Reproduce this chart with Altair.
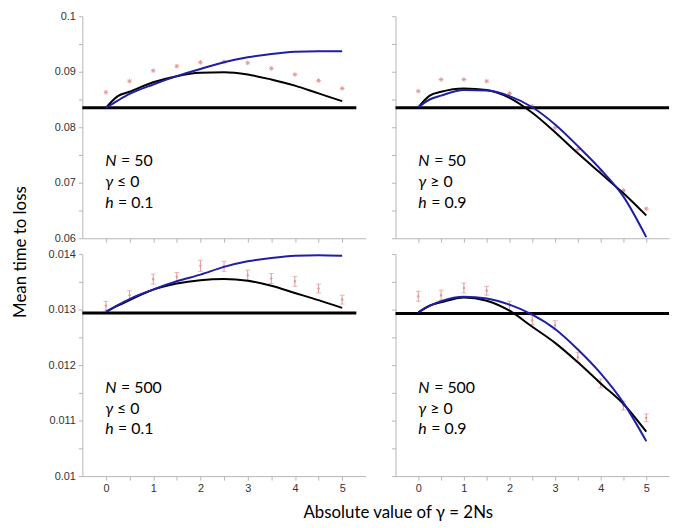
import altair as alt
import pandas as pd

# ---------------- data ----------------
x_sim = [0, 0.5, 1, 1.5, 2, 2.5, 3, 3.5, 4, 4.5, 5]
x_curve = [0, 0.25, 0.5, 1, 1.5, 2, 2.5, 3, 3.5, 4, 4.5, 5]
x_ticks = [0, 0.5, 1, 1.5, 2, 2.5, 3, 3.5, 4, 4.5, 5]

# Panel A: N = 50, gamma <= 0, h = 0.1
a_sim = [0.0863, 0.0883, 0.0902, 0.0910, 0.0917, 0.0918, 0.0916, 0.0906, 0.0895, 0.0884, 0.0870]
a_black = [0.0835, 0.0856, 0.0864, 0.0881, 0.0892, 0.0898, 0.0899, 0.0895, 0.0886, 0.0875, 0.0861, 0.0847]
a_blue = [0.0835, 0.0848, 0.0860, 0.0877, 0.0892, 0.0905, 0.0917, 0.0926, 0.0932, 0.0936, 0.0937, 0.0937]
a_neutral = 0.0835

# Panel B: N = 50, gamma >= 0, h = 0.9
b_sim = [0.0865, 0.0886, 0.0886, 0.0883, 0.0861, 0.0838, 0.0799, 0.0760, 0.0722, 0.0686, 0.0653]
b_black = [0.0836, 0.0857, 0.0864, 0.0870, 0.0867, 0.0853, 0.0826, 0.0791, 0.0753, 0.0717, 0.0681, 0.0641]
b_blue = [0.0836, 0.0850, 0.0857, 0.0867, 0.0866, 0.0856, 0.0836, 0.0805, 0.0766, 0.0724, 0.0675, 0.0602]
b_neutral = 0.0835

# Panel C: N = 500, gamma <= 0, h = 0.1
c_sim = [0.01307, 0.01326, 0.01355, 0.01359, 0.01379, 0.01378, 0.01362, 0.01356, 0.01351, 0.01338, 0.01318]
c_err = [0.00008, 0.00008, 0.00009, 0.00008, 0.00010, 0.00009, 0.00009, 0.00009, 0.00009, 0.00008, 0.00008]
c_black = [0.01296, 0.01307, 0.01317, 0.01336, 0.01347, 0.01353, 0.01355, 0.01352, 0.01343, 0.01330, 0.01317, 0.01303]
c_blue = [0.01296, 0.01308, 0.01319, 0.01336, 0.01351, 0.01363, 0.01377, 0.01387, 0.01393, 0.01397, 0.01398, 0.01397]
c_neutral = 0.01294

# Panel D: N = 500, gamma >= 0, h = 0.9
d_sim = [0.01324, 0.01326, 0.01339, 0.01334, 0.01307, 0.01281, 0.01272, 0.01214, 0.01167, 0.01127, 0.01105]
d_err = [0.00009, 0.00009, 0.00009, 0.00008, 0.00008, 0.00008, 0.00008, 0.00009, 0.00008, 0.00008, 0.00007]
d_black = [0.01295, 0.01307, 0.01313, 0.01322, 0.01316, 0.01298, 0.01269, 0.01240, 0.01205, 0.01167, 0.01130, 0.01080]
d_blue = [0.01295, 0.01307, 0.01315, 0.01323, 0.01320, 0.01309, 0.01291, 0.01265, 0.01228, 0.01185, 0.01132, 0.01063]
d_neutral = 0.01293

top_ticks = [0.06, 0.065, 0.07, 0.075, 0.08, 0.085, 0.09, 0.095, 0.1]
bottom_ticks = [0.01, 0.0105, 0.011, 0.0115, 0.012, 0.0125, 0.013, 0.0135, 0.014]

notes_a = [("N", "= 50"), ("γ", "≤ 0"), ("h", "= 0.1")]
notes_b = [("N", "= 50"), ("γ", "≥ 0"), ("h", "= 0.9")]
notes_c = [("N", "= 500"), ("γ", "≤ 0"), ("h", "= 0.1")]
notes_d = [("N", "= 500"), ("γ", "≥  0"), ("h", "= 0.9")]

x_title = "Absolute value of γ = 2Ns"
y_title = "Mean time to loss"

# ---------------- styling ----------------
BLUE = "#1e1ea6"
PINK = "#e09a9a"
ASTER = "M-1,0L1,0M0,-1L0,1M-0.7,-0.7L0.7,0.7M-0.7,0.7L0.7,-0.7"
H = 224
TXT_FONT = "Lato"


def panel(sim, err, black, blue, neutral, neutral_end, ydom, yticks, mult,
          ylabels, xlabels, w, notes, note_y):
    xs = alt.Scale(domain=[-0.5, 5.5], nice=False, zero=False)
    ys = alt.Scale(domain=ydom, nice=False, zero=False)
    xax = alt.Axis(values=x_ticks, labels=xlabels, title=None, grid=False,
                   format="~g", labelOverlap=False,
                   labelExpr="datum.value % 1 == 0 ? datum.label : ''")
    yax = alt.Axis(values=yticks, labels=ylabels, title=None, grid=False,
                   format="~g", labelOverlap=False,
                   labelExpr=f"abs(datum.value*{mult} - round(datum.value*{mult})) < 0.01 ? datum.label : ''")
    X = alt.X("x:Q", scale=xs, axis=xax)

    def Y(f):
        return alt.Y(f"{f}:Q", scale=ys, axis=yax)

    layers = []
    sdf = pd.DataFrame({"x": x_sim, "y": sim})
    if err is None:
        layers.append(alt.Chart(sdf).mark_point(shape=ASTER, size=22, filled=False,
                                                strokeWidth=1, color=PINK, opacity=1)
                      .encode(x=X, y=Y("y")))
    else:
        sdf["lo"] = [v - e for v, e in zip(sim, err)]
        sdf["hi"] = [v + e for v, e in zip(sim, err)]
        layers.append(alt.Chart(sdf).mark_rule(color=PINK, strokeWidth=1)
                      .encode(x=X, y=Y("lo"), y2="hi:Q"))
        layers.append(alt.Chart(sdf).mark_tick(orient="horizontal", size=5, thickness=1, color=PINK)
                      .encode(x=X, y=Y("lo")))
        layers.append(alt.Chart(sdf).mark_tick(orient="horizontal", size=5, thickness=1, color=PINK)
                      .encode(x=X, y=Y("hi")))
        layers.append(alt.Chart(sdf).mark_point(shape="diamond", size=10, filled=True,
                                                color=PINK, opacity=1)
                      .encode(x=X, y=Y("y")))

    ndf = pd.DataFrame({"x": [-0.5, neutral_end], "y": [neutral, neutral]})
    layers.append(alt.Chart(ndf).mark_line(color="black", strokeWidth=3)
                  .encode(x=X, y=Y("y")))
    cdf = pd.DataFrame({"x": x_curve, "black": black, "blue": blue})
    layers.append(alt.Chart(cdf).mark_line(color="black", strokeWidth=2, interpolate="monotone")
                  .encode(x=X, y=Y("black")))
    layers.append(alt.Chart(cdf).mark_line(color=BLUE, strokeWidth=2, interpolate="monotone")
                  .encode(x=X, y=Y("blue")))

    offs = [16, 12, 13]
    tdf = pd.DataFrame({"k": [0]})
    for (ital, rest), yy, off in zip(notes, note_y, offs):
        layers.append(alt.Chart(tdf).mark_text(text=ital, font=TXT_FONT, fontSize=16,
                                               fontStyle="italic", align="left",
                                               baseline="middle", color="black")
                      .encode(x=alt.value(23), y=alt.value(yy)))
        layers.append(alt.Chart(tdf).mark_text(text=rest, font=TXT_FONT, fontSize=16,
                                               align="left", baseline="middle", color="black")
                      .encode(x=alt.value(23 + off), y=alt.value(yy)))
    return alt.layer(*layers).properties(width=w, height=H)


top_y = [146, 167, 188]
bot_y = [135, 156, 177]

pa = panel(a_sim, None, a_black, a_blue, a_neutral, 5.3, [0.06, 0.1], top_ticks, 100,
           True, False, 286, notes_a, top_y)
pb = panel(b_sim, None, b_black, b_blue, b_neutral, 5.5, [0.06, 0.1], top_ticks, 100,
           False, False, 276, notes_b, top_y)
pc = panel(c_sim, c_err, c_black, c_blue, c_neutral, 5.3, [0.01, 0.014], bottom_ticks, 1000,
           True, True, 286, notes_c, bot_y)
pd_ = panel(d_sim, d_err, d_black, d_blue, d_neutral, 5.5, [0.01, 0.014], bottom_ticks, 1000,
            False, True, 276, notes_d, bot_y)

inner = alt.concat(pa, pb, pc, pd_, columns=2, spacing={"row": 16, "column": 30},
                   bounds="flush").properties(
    title=alt.TitleParams(y_title, orient="left", anchor="middle", font=TXT_FONT,
                          fontSize=17, fontWeight="normal", color="black", offset=18))

chart = alt.vconcat(inner).properties(
    title=alt.TitleParams(x_title, orient="bottom", anchor="middle", font=TXT_FONT,
                          fontSize=17, fontWeight="normal", color="black", offset=11, dx=55),
    padding={"left": 4, "top": 0, "right": 0, "bottom": 0},
).configure_view(strokeWidth=0).configure_axis(
    domainColor="#b5b5b5", tickColor="#b5b5b5", tickSize=4, domainWidth=1,
    labelFont="Liberation Sans", labelFontSize=11, labelColor="#333333", labelPadding=3,
)

chart.save("out.html", embed_options={"renderer": "svg", "actions": False})
